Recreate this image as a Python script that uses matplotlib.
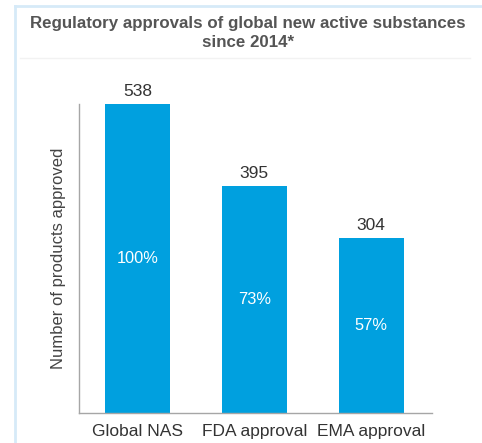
import matplotlib
matplotlib.use("Agg")
import matplotlib.pyplot as plt
from matplotlib.lines import Line2D

plt.rcParams['font.family'] = ['Liberation Sans', 'DejaVu Sans']

categories = ["Global NAS", "FDA approval", "EMA approval"]
values = [538, 395, 304]
pct_labels = ["100%", "73%", "57%"]
title = "Regulatory approvals of global new active substances\nsince 2014*"
ylabel = "Number of products approved"

bar_color = "#00A0DF"

fig = plt.figure(figsize=(4.82, 4.43), dpi=100)
ax = fig.add_axes([79/482, 30/443, (432-79)/482, (413-104)/443])

x = range(len(categories))
bars = ax.bar(x, values, width=0.556, color=bar_color, zorder=2)
ax.set_xlim(-0.5, 2.52)
ax.set_ylim(0, max(values))

for xi, v, p in zip(x, values, pct_labels):
    ax.text(xi, v + 9, str(v), ha='center', va='bottom', fontsize=12.5, color='#333333')
    ax.text(xi, v / 2, p, ha='center', va='center', fontsize=11.8, color='white')

ax.set_xticks(list(x))
ax.set_xticklabels(categories, fontsize=12.5, color='#333333')
ax.tick_params(axis='x', length=0, pad=8)
ax.set_yticks([])
ax.set_ylabel(ylabel, fontsize=12, color='#444444', labelpad=9)

for s in ['top', 'right']:
    ax.spines[s].set_visible(False)
for s in ['left', 'bottom']:
    ax.spines[s].set_color('#A6A6A6')
    ax.spines[s].set_linewidth(1.0)

fig.text(248/482, 1 - 33/443, title, ha='center', va='center', fontsize=12.2,
         fontweight='bold', color='#555555', linespacing=1.3)

# light panel border lines
fig.add_artist(Line2D([15/482, 1], [1 - 6/443, 1 - 6/443], color='#D6EAF8', lw=2, transform=fig.transFigure))
fig.add_artist(Line2D([15/482, 15/482], [0, 1 - 6/443], color='#D6EAF8', lw=2, transform=fig.transFigure))
fig.add_artist(Line2D([20/482, 470/482], [1 - 58/443, 1 - 58/443], color='#F2F2F2', lw=1, transform=fig.transFigure))

fig.savefig("out.png", dpi=100)
